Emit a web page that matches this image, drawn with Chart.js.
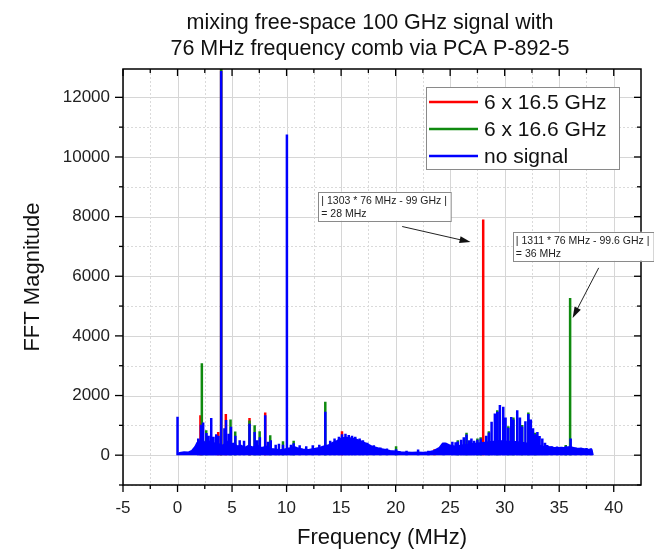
<!DOCTYPE html>
<html><head><meta charset="utf-8">
<script src="https://cdn.jsdelivr.net/npm/chart.js@4.4.0/dist/chart.umd.min.js"></script>
<style>html,body{margin:0;padding:0;background:#fff;}#wrap{width:654px;height:551px;}</style>
</head><body><div id="wrap"><canvas id="c" width="654" height="551"></canvas></div>
<script>
// ---------- data ----------
const titleLines = ['mixing free-space 100 GHz signal with', '76 MHz frequency comb via PCA P-892-5'];
const xAxisTitle = 'Frequency (MHz)';
const yAxisTitle = 'FFT Magnitude';
const xTickValues = [-5, 0, 5, 10, 15, 20, 25, 30, 35, 40];
const xMinorValues = [-2.5, 2.5, 7.5, 12.5, 17.5, 22.5, 27.5, 32.5, 37.5];
const yTickValues = [0, 2000, 4000, 6000, 8000, 10000, 12000];
const yMinorValues = [-1000, 1000, 3000, 5000, 7000, 9000, 11000];
const seriesNames = ['6 x 16.5 GHz', '6 x 16.6 GHz', 'no signal'];

// blue ("no signal") broadband floor
const blueBaseFreq = [0.0,0.2,0.6,1.0,1.3,1.6,1.8,2.0,2.3,2.6,2.9,3.2,3.5,3.8,4.2,4.5,4.8,5.1,5.5,5.8,6.2,6.5,6.9,7.3,7.7,8.2,8.6,9.0,9.4,9.8,10.3,10.7,11.0,11.5,12.0,12.5,13.0,13.4,13.8,14.2,14.6,15.0,15.4,15.8,16.2,16.6,17.0,17.4,17.8,18.2,18.6,19.0,19.5,20.0,20.5,21.0,21.5,22.0,22.5,23.0,23.5,24.0,24.3,24.6,25.0,25.4,25.8,26.2,26.6,27.0,27.5,28.0,28.5,29.0,29.5,30.0,30.5,31.0,31.5,32.0,32.5,33.0,33.5,34.0,34.5,35.0,35.5,36.0,36.5,37.0,37.5,38.0,38.1];
const blueBaseVal  = [40,80,110,100,150,280,420,460,520,380,470,350,430,380,330,480,350,400,300,330,260,320,270,330,250,300,220,200,170,200,240,280,240,200,180,220,250,300,330,420,480,560,600,580,560,500,440,380,300,260,220,190,150,130,110,100,90,100,90,110,150,250,390,400,330,300,320,340,360,380,400,420,440,460,480,470,460,450,430,400,370,340,300,280,260,250,260,280,230,220,200,180,0];

// blue spectral lines
const blueSpikeFreq = [0.0,1.9,2.15,2.35,2.65,2.85,3.09,3.3,3.55,3.75,4.0,4.3,4.45,4.7,4.9,5.3,5.7,6.1,6.6,7.07,7.3,7.55,8.04,8.3,8.55,9.0,9.3,9.67,10.03,10.4,10.65,11.2,11.8,12.4,13.0,13.55,14.0,14.4,14.8,15.08,15.4,15.7,16.0,16.3,16.7,17.0,17.4,18.0,18.6,19.2,20.04,21.0,22.06,23.0,24.4,25.2,25.5,25.7,26.0,26.25,26.5,26.75,26.95,27.2,27.5,27.8,28.3,28.55,28.8,29.1,29.32,29.56,29.87,30.08,30.33,30.6,30.8,31.15,31.4,31.6,31.9,32.17,32.4,32.6,32.8,33.0,33.2,33.45,33.7,33.9,34.3,34.8,35.2,35.6,36.05,36.5,37.0,37.5,37.9];
const blueSpikeVal  = [1290,560,1020,1100,740,650,1250,620,700,650,12880,900,1180,720,950,650,500,480,1050,780,500,600,1340,450,500,350,380,350,10750,350,400,330,300,330,350,1460,480,560,620,700,720,680,650,620,560,500,420,330,260,220,200,150,190,150,420,450,430,460,520,600,690,500,560,480,520,560,650,760,1120,1400,1460,1680,1620,1260,920,1280,1200,1510,1260,960,1140,1380,1200,900,700,780,640,560,420,340,300,290,280,300,560,260,250,240,230];

// green ("6 x 16.6 GHz") lines rising above the blue
const greenSpikeFreq = [2.23,2.63,4.0,4.86,5.29,6.6,7.07,7.53,8.5,9.67,10.65,13.55,20.04,25.7,26.5,27.5,27.8,28.55,29.32,30.33,30.8,31.6,32.17,32.8,35.6,36.0];
const greenSpikeVal  = [3080,840,13000,1200,790,1160,1000,800,670,470,480,1790,300,500,750,560,600,800,1510,970,1260,1010,1430,750,340,5270];

// red ("6 x 16.5 GHz") lines rising above the blue
const redSpikeFreq = [2.1,3.73,4.0,4.43,6.6,8.04,15.08,23.56,28.03];
const redSpikeVal  = [1340,780,13000,1380,1250,1430,800,200,7900];

// annotations (anchored in data coordinates)
const noteLines1 = ['| 1303 * 76 MHz - 99 GHz |', '= 28 MHz'];
const noteLines2 = ['| 1311 * 76 MHz - 99.6 GHz |', '= 36 MHz'];
</script>
<script>
const FONT = '"Liberation Sans", Arial, sans-serif';
const RED = '#ff0000', GREEN = '#0f8a0f', BLUE = '#0000ff';
const seriesColors = [RED, GREEN, BLUE];

function pairs(fs, vs) { return fs.map((f, i) => ({x: f, y: vs[i]})); }
function spikes(fs, vs) {
  const out = [];
  fs.forEach((f, i) => { out.push({x: f, y: 0}, {x: f, y: vs[i]}, {x: f, y: null}); });
  return out;
}

const notes = [
  {lines: noteLines1, box: [12.91, 8834], from: [20.6, 7668], to: [26.87, 7145]},
  {lines: noteLines2, box: [30.75, 7491], from: [38.62, 6281], to: [36.23, 4602]}
];

const framePlugin = {
  id: 'frame',
  beforeDatasetsDraw(chart) {
    const {ctx, chartArea: a, scales: {x, y}} = chart;
    ctx.save();
    ctx.lineWidth = 1;
    ctx.strokeStyle = '#d6d6d6';
    xTickValues.forEach(v => { const p = Math.round(x.getPixelForValue(v)) + 0.5; ctx.beginPath(); ctx.moveTo(p, a.top); ctx.lineTo(p, a.bottom); ctx.stroke(); });
    yTickValues.forEach(v => { const p = Math.round(y.getPixelForValue(v)) + 0.5; ctx.beginPath(); ctx.moveTo(a.left, p); ctx.lineTo(a.right, p); ctx.stroke(); });
    ctx.setLineDash([2, 2]);
    ctx.strokeStyle = '#dadada';
    xMinorValues.forEach(v => { const p = Math.round(x.getPixelForValue(v)) + 0.5; ctx.beginPath(); ctx.moveTo(p, a.top); ctx.lineTo(p, a.bottom); ctx.stroke(); });
    yMinorValues.forEach(v => { const p = Math.round(y.getPixelForValue(v)) + 0.5; ctx.beginPath(); ctx.moveTo(a.left, p); ctx.lineTo(a.right, p); ctx.stroke(); });
    ctx.restore();
  },
  afterDatasetsDraw(chart) {
    const {ctx, chartArea: a, scales: {x, y}} = chart;
    ctx.save();
    ctx.strokeStyle = '#000';
    ctx.lineWidth = 1.5;
    ctx.strokeRect(a.left, a.top, a.right - a.left, a.bottom - a.top);
    ctx.lineWidth = 1.3;
    const tick = (x1, y1, x2, y2) => { ctx.beginPath(); ctx.moveTo(x1, y1); ctx.lineTo(x2, y2); ctx.stroke(); };
    xTickValues.forEach(v => { const p = x.getPixelForValue(v); tick(p, a.bottom, p, a.bottom + 7); tick(p, a.top, p, a.top + 7); });
    xMinorValues.forEach(v => { const p = x.getPixelForValue(v); tick(p, a.bottom, p, a.bottom + 4); tick(p, a.top, p, a.top + 4); });
    yTickValues.forEach(v => { const p = y.getPixelForValue(v); tick(a.left - 8, p, a.left, p); tick(a.right - 7, p, a.right, p); });
    yMinorValues.forEach(v => { const p = y.getPixelForValue(v); tick(a.left - 4, p, a.left, p); tick(a.right - 4, p, a.right, p); });
    ctx.restore();
  },
  afterDraw(chart) {
    const {ctx, chartArea: a, scales: {x, y}} = chart;
    ctx.save();
    // title
    ctx.fillStyle = '#111';
    ctx.font = '21.5px ' + FONT;
    ctx.textAlign = 'center';
    ctx.textBaseline = 'middle';
    ctx.fillText(titleLines[0], 370, 23);
    ctx.fillText(titleLines[1], 370, 49);
    // legend
    const lx = a.right - 215, ly = a.top + 18, lw = 193, lh = 82;
    ctx.fillStyle = '#fff';
    ctx.fillRect(lx, ly, lw, lh);
    ctx.strokeStyle = '#8a8a8a';
    ctx.lineWidth = 1;
    ctx.strokeRect(lx + 0.5, ly + 0.5, lw, lh);
    ctx.font = '21px ' + FONT;
    ctx.textAlign = 'left';
    seriesNames.forEach((n, i) => {
      const ry = ly + 15 + i * 27;
      ctx.strokeStyle = seriesColors[i];
      ctx.lineWidth = 2.5;
      ctx.beginPath(); ctx.moveTo(lx + 3, ry); ctx.lineTo(lx + 52, ry); ctx.stroke();
      ctx.fillStyle = '#111';
      ctx.fillText(n, lx + 58, ry + 1);
    });
    // annotations
    ctx.font = '10.5px ' + FONT;
    notes.forEach(nt => {
      const bx = x.getPixelForValue(nt.box[0]), by = y.getPixelForValue(nt.box[1]);
      const w = Math.max(...nt.lines.map(t => ctx.measureText(t).width)) + 7;
      ctx.fillStyle = '#fff';
      ctx.fillRect(bx, by, w, 29);
      ctx.strokeStyle = '#8a8a8a';
      ctx.lineWidth = 1;
      ctx.strokeRect(Math.round(bx) + 0.5, Math.round(by) + 0.5, w, 29);
      ctx.fillStyle = '#222';
      ctx.textBaseline = 'middle';
      nt.lines.forEach((t, i) => ctx.fillText(t, bx + 3, by + 9 + i * 13));
      const x1 = x.getPixelForValue(nt.from[0]), y1 = y.getPixelForValue(nt.from[1]);
      const x2 = x.getPixelForValue(nt.to[0]), y2 = y.getPixelForValue(nt.to[1]);
      const ang = Math.atan2(y2 - y1, x2 - x1);
      ctx.strokeStyle = '#222';
      ctx.lineWidth = 1;
      ctx.beginPath(); ctx.moveTo(x1, y1); ctx.lineTo(x2 - 9 * Math.cos(ang), y2 - 9 * Math.sin(ang)); ctx.stroke();
      ctx.fillStyle = '#111';
      ctx.beginPath();
      ctx.moveTo(x2, y2);
      ctx.lineTo(x2 - 11 * Math.cos(ang) + 3.5 * Math.sin(ang), y2 - 11 * Math.sin(ang) - 3.5 * Math.cos(ang));
      ctx.lineTo(x2 - 11 * Math.cos(ang) - 3.5 * Math.sin(ang), y2 - 11 * Math.sin(ang) + 3.5 * Math.cos(ang));
      ctx.closePath(); ctx.fill();
    });
    ctx.restore();
  }
};

const spikeStyle = {borderWidth: 2.5, pointRadius: 0, spanGaps: false, fill: false, tension: 0};

new Chart(document.getElementById('c'), {
  type: 'line',
  data: {
    datasets: [
      Object.assign({label: seriesNames[0], data: spikes(redSpikeFreq, redSpikeVal), borderColor: RED, order: 3}, spikeStyle),
      Object.assign({label: seriesNames[1], data: spikes(greenSpikeFreq, greenSpikeVal), borderColor: GREEN, order: 2}, spikeStyle),
      {label: seriesNames[2], data: pairs(blueBaseFreq, blueBaseVal), borderColor: BLUE, backgroundColor: BLUE, borderWidth: 1.5, pointRadius: 0, fill: 'origin', tension: 0, order: 1},
      Object.assign({label: seriesNames[2], data: spikes(blueSpikeFreq, blueSpikeVal), borderColor: BLUE, order: 0}, spikeStyle)
    ]
  },
  options: {
    responsive: false,
    animation: false,
    devicePixelRatio: 1,
    layout: {padding: {top: 69, right: 13, bottom: 0, left: 0}},
    plugins: {legend: {display: false}, tooltip: {enabled: false}, title: {display: false}},
    scales: {
      x: {
        type: 'linear', min: -5, max: 42.5,
        afterBuildTicks: s => { s.ticks = xTickValues.map(v => ({value: v})); },
        afterFit: s => { s.height = 66; },
        grid: {display: false}, border: {display: false},
        ticks: {font: {family: FONT, size: 17}, color: '#222', padding: 5, maxRotation: 0, autoSkip: false, callback: v => String(v)},
        title: {display: true, text: xAxisTitle, font: {family: FONT, size: 22}, color: '#111', padding: {top: 0, bottom: 0}}
      },
      y: {
        type: 'linear', min: -1000, max: 12950,
        afterBuildTicks: s => { s.ticks = yTickValues.map(v => ({value: v})); },
        afterFit: s => { s.width = 123; },
        grid: {display: false}, border: {display: false},
        ticks: {font: {family: FONT, size: 17}, color: '#222', padding: 5, autoSkip: false, callback: v => String(v)},
        title: {display: true, text: yAxisTitle, font: {family: FONT, size: 22}, color: '#111', padding: {top: 20, bottom: 0}}
      }
    }
  },
  plugins: [framePlugin]
});
</script>
</body></html>
